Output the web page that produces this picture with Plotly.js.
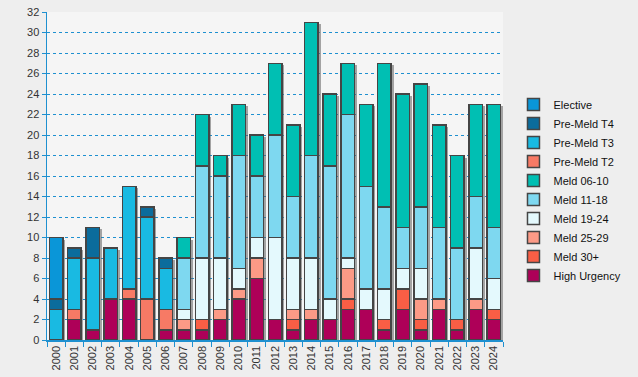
<!DOCTYPE html>
<html><head><meta charset="utf-8">
<script src="https://cdn.plot.ly/plotly-3.0.1.min.js"></script>
<style>html,body{margin:0;padding:0;background:#EEEEEE;}#chart{width:638px;height:377px;}</style>
</head><body><div id="chart"></div>
<script>
const years = ["2000","2001","2002","2003","2004","2005","2006","2007","2008","2009","2010","2011","2012","2013","2014","2015","2016","2017","2018","2019","2020","2021","2022","2023","2024"];
const highUrgency = [0,2,1,4,4,0,1,1,1,2,4,6,2,1,2,2,3,3,1,3,1,3,1,3,2];
const meld30 =      [0,0,0,0,0,0,0,0,1,0,0,0,0,1,0,0,1,0,1,2,1,0,1,0,1];
const meld2529 =    [0,0,0,0,0,0,0,1,0,1,1,2,0,1,1,0,3,0,0,0,2,1,0,1,0];
const meld1924 =    [0,0,0,0,0,0,0,1,6,5,2,2,8,5,5,2,1,2,3,2,3,0,0,5,3];
const meld1118 =    [0,0,0,0,0,0,0,5,9,8,11,6,10,6,10,13,14,10,8,4,6,7,7,5,5];
const meld0610 =    [0,0,0,0,0,0,0,2,5,2,5,4,7,7,13,7,5,8,14,13,12,10,9,9,12];
const preMeldT2 =   [0,1,0,0,1,4,2,0,0,0,0,0,0,0,0,0,0,0,0,0,0,0,0,0,0];
const preMeldT3 =   [3,5,7,5,10,8,4,0,0,0,0,0,0,0,0,0,0,0,0,0,0,0,0,0,0];
const preMeldT4 =   [1,1,3,0,0,1,1,0,0,0,0,0,0,0,0,0,0,0,0,0,0,0,0,0,0];
const elective =    [6,0,0,0,0,0,0,0,0,0,0,0,0,0,0,0,0,0,0,0,0,0,0,0,0];
const yTicks = [0,2,4,6,8,10,12,14,16,18,20,22,24,26,28,30,32];

const series = [
  ["High Urgency", highUrgency, "#AE0058"],
  ["Meld 30+", meld30, "#F95E45"],
  ["Meld 25-29", meld2529, "#FC9A86"],
  ["Meld 19-24", meld1924, "#E4F9FD"],
  ["Meld 11-18", meld1118, "#7ED8F0"],
  ["Meld 06-10", meld0610, "#00BFB3"],
  ["Pre-Meld T2", preMeldT2, "#F77A65"],
  ["Pre-Meld T3", preMeldT3, "#19BAE2"],
  ["Pre-Meld T4", preMeldT4, "#0B6C9C"],
  ["Elective", elective, "#0A96D8"]
];

const totals = years.map((_, i) => series.reduce((s, t) => s + t[1][i], 0));
const BW = 0.74;
const traces = [{
  type: "bar", x: years, y: totals.map(v => v - 0.2), xaxis: "x", yaxis: "y",
  width: BW, offset: -BW/2 + 0.13, showlegend: false, hoverinfo: "skip",
  marker: {color: "rgba(95,95,95,0.55)", line: {width: 0}}
}];
series.forEach(([name, vals, col]) => {
  traces.push({
    type: "bar", name: name, x: years, y: vals, xaxis: "x2", yaxis: "y2",
    width: BW,
    marker: {color: col, line: {color: "#454545", width: 1.5}}
  });
});

const fnt = {family: "Liberation Sans, Arial, sans-serif", size: 11, color: "#333333"};
const layout = {
  width: 638, height: 377,
  margin: {l: 47, r: 116, t: 12, b: 37},
  paper_bgcolor: "#EEEEEE", plot_bgcolor: "#F5F5F5",
  barmode: "stack",
  font: fnt,
  showlegend: true,
  legend: {x: 1.023, xanchor: "left", y: 0.762, yanchor: "top", traceorder: "reversed",
           font: {family: "Liberation Sans, Arial, sans-serif", size: 11, color: "#111"},
           bgcolor: "rgba(0,0,0,0)", tracegroupgap: 0},
  xaxis: {type: "category", categoryarray: years, range: [-0.5, 24.5], tickson: "boundaries",
          ticks: "outside", ticklen: 5, tickcolor: "#1E90D0", showline: true, linecolor: "#1E90D0",
          linewidth: 1.5, showgrid: false, tickangle: -90, tickfont: fnt, fixedrange: true},
  yaxis: {range: [0, 32], tickvals: yTicks, ticktext: yTicks.map(String), ticks: "outside", ticklen: 4,
          tickcolor: "#1E90D0", showline: true, linecolor: "#1E90D0", linewidth: 1.5,
          showgrid: true, gridcolor: "#1E90D0", griddash: "3px,3px", gridwidth: 1,
          zeroline: false, tickfont: fnt},
  xaxis2: {type: "category", categoryarray: years, range: [-0.5, 24.5], overlaying: "x", visible: false},
  yaxis2: {range: [0, 32], overlaying: "y", visible: false}
};
Plotly.newPlot("chart", traces, layout, {displayModeBar: false, staticPlot: true});
</script></body></html>
